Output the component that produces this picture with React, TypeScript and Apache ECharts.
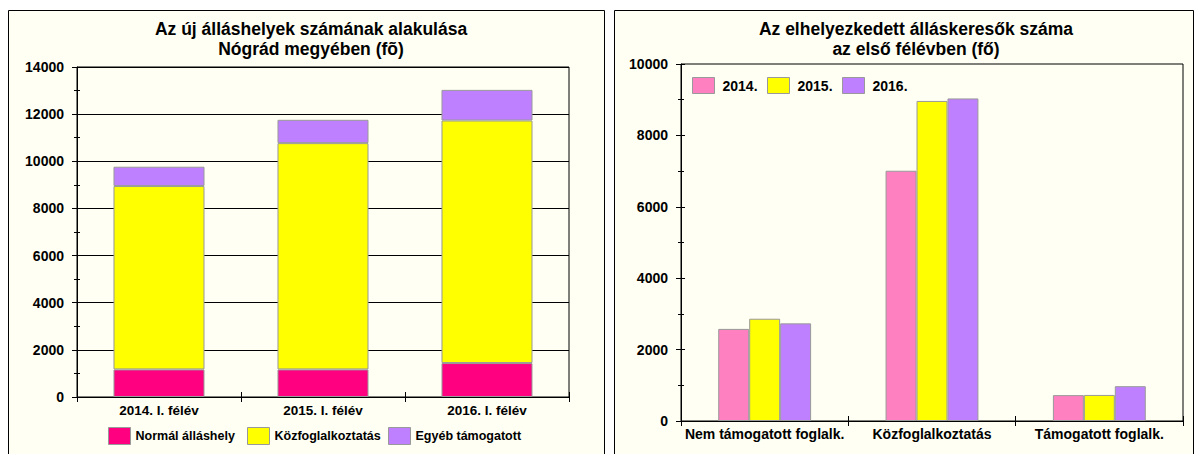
import React, { useEffect, useRef } from "react";
import * as echarts from "echarts";

const leftCategories = ["2014. I. félév", "2015. I. félév", "2016. I. félév"];
const normalAllashely = [1170, 1170, 1440];
const kozfoglalkoztatas = [7780, 9600, 10290];
const egyebTamogatott = [820, 990, 1300];
const leftSeriesNames = ["Normál álláshely", "Közfoglalkoztatás", "Egyéb támogatott"];

const rightCategories = ["Nem támogatott foglalk.", "Közfoglalkoztatás", "Támogatott foglalk."];
const y2014 = [2580, 7010, 725];
const y2015 = [2865, 8965, 730];
const y2016 = [2735, 9035, 975];
const rightSeriesNames = ["2014.", "2015.", "2016."];

const leftTitle = "Az új álláshelyek számának alakulása\nNógrád megyében (fõ)";
const rightTitle = "Az elhelyezkedett álláskeresők száma\naz első félévben (fő)";

const FONT = '"Liberation Sans", Arial, sans-serif';
const PANEL_BG = "#FFFFF3";
const BAR_BORDER = "#999999";

export default function App() {
  const ref = useRef<HTMLDivElement>(null);

  useEffect(() => {
    if (!ref.current) return;
    const chart = echarts.init(ref.current, undefined, { renderer: "svg" });

    const labelStyle = (size: number) => ({
      color: "#000",
      fontWeight: "bold" as const,
      fontFamily: FONT,
      fontSize: size,
    });

    const barItem = (color: string) => ({
      color,
      borderColor: BAR_BORDER,
      borderWidth: 1,
    });

    const plain = (v: number) => String(v);

    const legendItem = (
      name: string,
      left: number,
      top: number,
      color: string,
      w: number,
      h: number,
      size: number,
      pad: number
    ) => ({
      data: [name],
      left,
      top,
      orient: "horizontal",
      itemWidth: w,
      itemHeight: h,
      icon: "rect",
      padding: 0,
      itemStyle: { color, borderColor: BAR_BORDER, borderWidth: 1 },
      textStyle: { ...labelStyle(size), padding: [0, 0, 0, pad] },
    });

    const option: any = {
      animation: false,
      backgroundColor: "#ffffff",
      graphic: [
        {
          type: "rect",
          z: -10,
          shape: { x: 8.5, y: 10.5, width: 596, height: 460 },
          style: { fill: PANEL_BG, stroke: "#000", lineWidth: 1 },
        },
        {
          type: "rect",
          z: -10,
          shape: { x: 614.5, y: 10.5, width: 579, height: 460 },
          style: { fill: PANEL_BG, stroke: "#000", lineWidth: 1 },
        },
        {
          type: "text",
          x: 311,
          y: 19,
          style: {
            text: leftTitle,
            fill: "#000",
            font: `bold 17.5px ${FONT}`,
            align: "center",
            verticalAlign: "top",
            lineHeight: 20,
          },
        },
        {
          type: "text",
          x: 916,
          y: 19,
          style: {
            text: rightTitle,
            fill: "#000",
            font: `bold 17.5px ${FONT}`,
            align: "center",
            verticalAlign: "top",
            lineHeight: 20,
          },
        },
      ],
      legend: [
        legendItem(leftSeriesNames[0], 108, 427, "#FF0080", 22, 17, 12.5, 0),
        legendItem(leftSeriesNames[1], 247, 427, "#FFFF00", 22, 17, 12.5, 0),
        legendItem(leftSeriesNames[2], 388, 427, "#BF80FF", 22, 17, 12.5, 0),
        legendItem(rightSeriesNames[0], 692, 77, "#FF80C0", 22, 16, 14, 3),
        legendItem(rightSeriesNames[1], 767, 77, "#FFFF00", 22, 16, 14, 3),
        legendItem(rightSeriesNames[2], 842, 77, "#BF80FF", 22, 16, 14, 3),
      ],
      grid: [
        {
          left: 77,
          right: 632,
          top: 67,
          bottom: 57,
          show: true,
          backgroundColor: "transparent",
          borderColor: "#000",
          borderWidth: 1,
        },
        {
          left: 681,
          right: 18,
          top: 64,
          bottom: 33,
          show: true,
          backgroundColor: "transparent",
          borderColor: "#000",
          borderWidth: 1,
        },
      ],
      xAxis: [
        {
          gridIndex: 0,
          type: "category",
          data: leftCategories,
          position: "bottom",
          axisLine: { show: true, lineStyle: { color: "#000", width: 1 } },
          axisTick: { show: true, length: 5, interval: 0, lineStyle: { color: "#000" } },
          axisLabel: { ...labelStyle(13.5), margin: 6, interval: 0 },
          splitLine: { show: false },
        },
        {
          gridIndex: 0,
          type: "category",
          data: leftCategories,
          position: "bottom",
          axisLine: { show: false },
          axisTick: { show: true, inside: true, length: 5, interval: 0, lineStyle: { color: "#000" } },
          axisLabel: { show: false },
          splitLine: { show: false },
        },
        {
          gridIndex: 1,
          type: "category",
          data: rightCategories,
          position: "bottom",
          axisLine: { show: true, lineStyle: { color: "#000", width: 1 } },
          axisTick: { show: true, length: 5, interval: 0, lineStyle: { color: "#000" } },
          axisLabel: { ...labelStyle(14), margin: 6, interval: 0 },
          splitLine: { show: false },
        },
        {
          gridIndex: 1,
          type: "category",
          data: rightCategories,
          position: "bottom",
          axisLine: { show: false },
          axisTick: { show: true, inside: true, length: 5, interval: 0, lineStyle: { color: "#000" } },
          axisLabel: { show: false },
          splitLine: { show: false },
        },
      ],
      yAxis: [
        {
          gridIndex: 0,
          type: "value",
          min: 0,
          max: 14000,
          interval: 2000,
          position: "left",
          axisLine: { show: true, lineStyle: { color: "#000", width: 1 } },
          axisTick: { show: true, length: 5, lineStyle: { color: "#000" } },
          minorTick: { show: true, splitNumber: 2, length: 3, lineStyle: { color: "#000" } },
          axisLabel: { ...labelStyle(14), margin: 13, formatter: plain },
          splitLine: { show: true, lineStyle: { color: "#000", width: 1 } },
        },
        {
          gridIndex: 0,
          type: "value",
          min: 0,
          max: 14000,
          interval: 2000,
          position: "left",
          axisLine: { show: false },
          axisTick: { show: false, inside: true },
          minorTick: { show: true, splitNumber: 2, length: 3, lineStyle: { color: "#000" } },
          axisLabel: { show: false },
          splitLine: { show: false },
        },
        {
          gridIndex: 1,
          type: "value",
          min: 0,
          max: 10000,
          interval: 2000,
          position: "left",
          axisLine: { show: true, lineStyle: { color: "#000", width: 1 } },
          axisTick: { show: true, length: 5, lineStyle: { color: "#000" } },
          minorTick: { show: true, splitNumber: 2, length: 3, lineStyle: { color: "#000" } },
          axisLabel: { ...labelStyle(14), margin: 13, formatter: plain },
          splitLine: { show: false },
        },
        {
          gridIndex: 1,
          type: "value",
          min: 0,
          max: 10000,
          interval: 2000,
          position: "left",
          axisLine: { show: false },
          axisTick: { show: true, inside: true, length: 4, lineStyle: { color: "#000" } },
          minorTick: { show: true, splitNumber: 2, length: 3, lineStyle: { color: "#000" } },
          axisLabel: { show: false },
          splitLine: { show: false },
        },
      ],
      series: [
        {
          name: leftSeriesNames[0],
          type: "bar",
          stack: "left",
          xAxisIndex: 0,
          yAxisIndex: 0,
          data: normalAllashely,
          barCategoryGap: "44.5%",
          itemStyle: barItem("#FF0080"),
        },
        {
          name: leftSeriesNames[1],
          type: "bar",
          stack: "left",
          xAxisIndex: 0,
          yAxisIndex: 0,
          data: kozfoglalkoztatas,
          barCategoryGap: "44.5%",
          itemStyle: barItem("#FFFF00"),
        },
        {
          name: leftSeriesNames[2],
          type: "bar",
          stack: "left",
          xAxisIndex: 0,
          yAxisIndex: 0,
          data: egyebTamogatott,
          barCategoryGap: "44.5%",
          itemStyle: barItem("#BF80FF"),
        },
        {
          name: rightSeriesNames[0],
          type: "bar",
          xAxisIndex: 2,
          yAxisIndex: 2,
          data: y2014,
          barGap: "0%",
          barCategoryGap: "44.5%",
          itemStyle: barItem("#FF80C0"),
        },
        {
          name: rightSeriesNames[1],
          type: "bar",
          xAxisIndex: 2,
          yAxisIndex: 2,
          data: y2015,
          barGap: "0%",
          barCategoryGap: "44.5%",
          itemStyle: barItem("#FFFF00"),
        },
        {
          name: rightSeriesNames[2],
          type: "bar",
          xAxisIndex: 2,
          yAxisIndex: 2,
          data: y2016,
          barGap: "0%",
          barCategoryGap: "44.5%",
          itemStyle: barItem("#BF80FF"),
        },
      ],
    };

    chart.setOption(option);
    return () => {
      chart.dispose();
    };
  }, []);

  return (
    <div
      ref={ref}
      style={{ position: "absolute", left: 0, top: 0, width: 1201, height: 454 }}
    />
  );
}
